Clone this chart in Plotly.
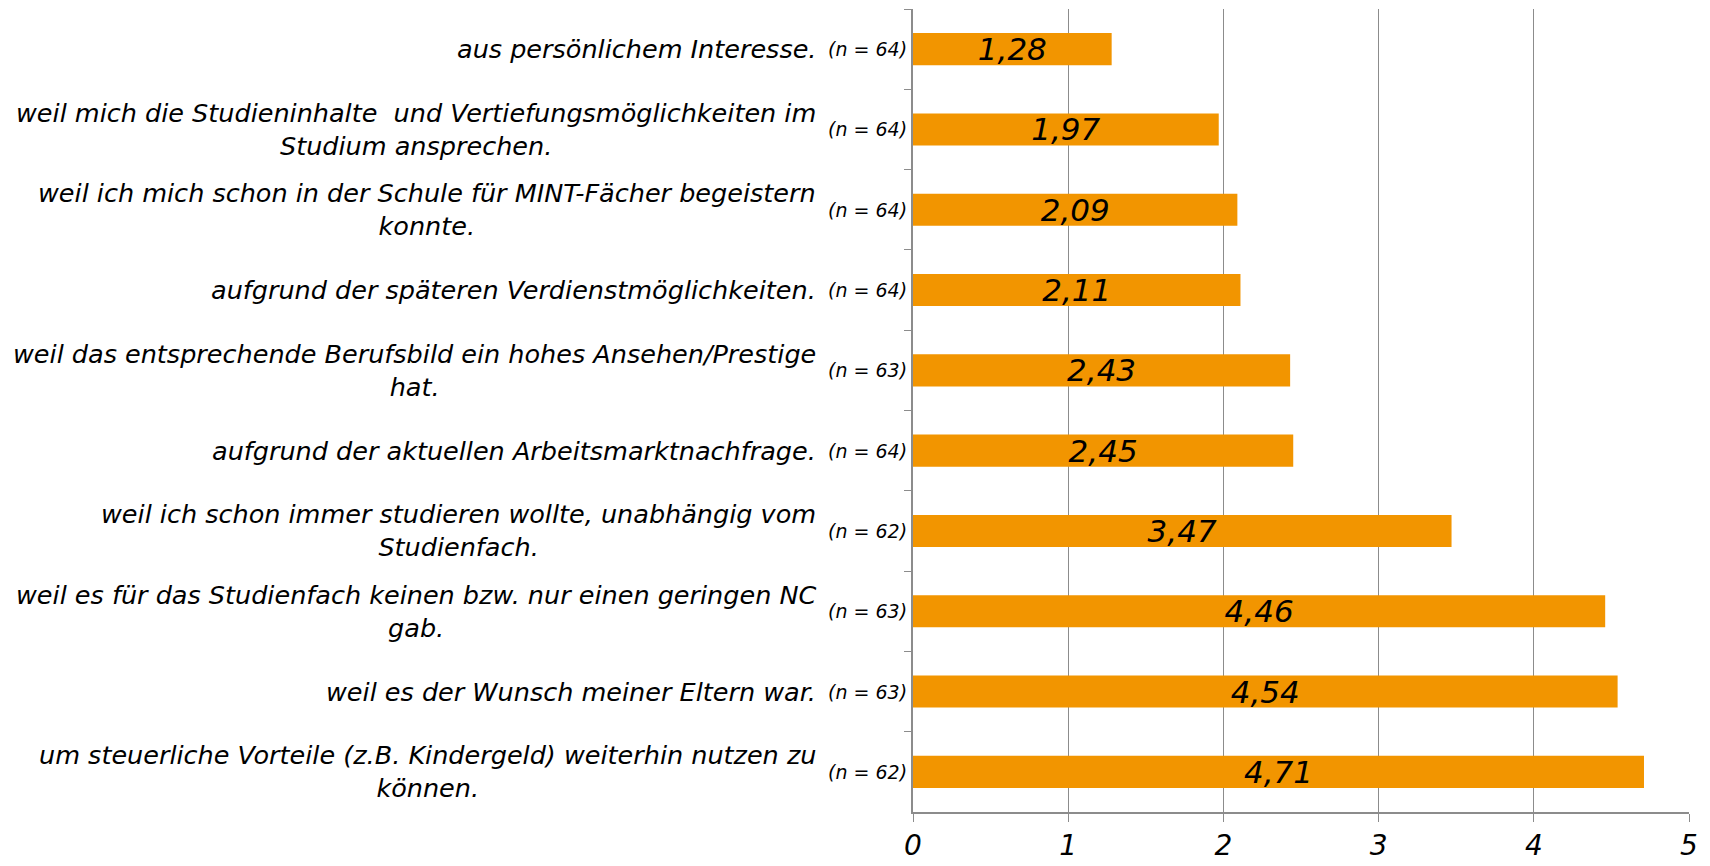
import plotly.graph_objects as go

categories = [
    "aus persönlichem Interesse.",
    "weil mich die Studieninhalte  und Vertiefungsmöglichkeiten im<br>Studium ansprechen.",
    "weil ich mich schon in der Schule für MINT-Fächer begeistern<br>konnte.",
    "aufgrund der späteren Verdienstmöglichkeiten.",
    "weil das entsprechende Berufsbild ein hohes Ansehen/Prestige<br>hat.",
    "aufgrund der aktuellen Arbeitsmarktnachfrage.",
    "weil ich schon immer studieren wollte, unabhängig vom<br>Studienfach.",
    "weil es für das Studienfach keinen bzw. nur einen geringen NC<br>gab.",
    "weil es der Wunsch meiner Eltern war.",
    "um steuerliche Vorteile (z.B. Kindergeld) weiterhin nutzen zu<br>können.",
]
n_counts = [64, 64, 64, 64, 63, 64, 62, 63, 63, 62]
means = [1.28, 1.97, 2.09, 2.11, 2.43, 2.45, 3.47, 4.46, 4.54, 4.71]
x_ticks = [0, 1, 2, 3, 4, 5]

FONT = "DejaVu Sans"
ORANGE = "#F29500"
GRID = "#8C8C8C"

ids = [f"c{i}" for i in range(len(categories))]

fig = go.Figure()
fig.add_trace(go.Bar(
    x=means, y=ids, orientation="h",
    marker=dict(color=ORANGE, line=dict(width=0)),
    texttemplate="<i>%{x:.2f}</i>", textposition="inside",
    insidetextanchor="middle", textangle=0, constraintext="none",
    textfont=dict(family=FONT, size=31, color="black"),
    hoverinfo="skip",
))

annotations = []
for cid, cat, n in zip(ids, categories, n_counts):
    annotations.append(dict(
        x=0, xref="paper", y=cid, yref="y", xanchor="right", yanchor="middle",
        xshift=-95, align="center", showarrow=False,
        text=f"<i>{cat}</i>", font=dict(family=FONT, size=25.5, color="black"),
    ))
    annotations.append(dict(
        x=0, xref="paper", y=cid, yref="y", xanchor="right", yanchor="middle",
        xshift=-4, align="right", showarrow=False,
        text=f"<i>(n = {n})</i>", font=dict(family=FONT, size=19, color="black"),
    ))

fig.update_layout(
    width=1702, height=858,
    margin=dict(l=905, r=21, t=1, b=54, autoexpand=False),
    paper_bgcolor="white", plot_bgcolor="white",
    separators=",.",
    bargap=0.6, showlegend=False,
    annotations=annotations,
    xaxis=dict(
        range=[0, 5], tickvals=x_ticks, ticktext=[f"<i>{v}</i>" for v in x_ticks],
        showgrid=True, gridcolor=GRID, gridwidth=1.3,
        showline=True, linecolor=GRID, linewidth=1.5,
        ticks="outside", ticklen=8, tickcolor=GRID, tickwidth=1.3,
        tickfont=dict(family=FONT, size=28, color="black"),
        ticklabelstandoff=0, zeroline=False, fixedrange=True, automargin=False,
    ),
    yaxis=dict(
        categoryorder="array", categoryarray=ids, autorange="reversed",
        showticklabels=False, showline=True, linecolor=GRID, linewidth=1.5,
        ticks="outside", tickson="boundaries", ticklen=7, tickcolor=GRID,
        tickwidth=1.3, showgrid=False, zeroline=False, fixedrange=True,
        automargin=False,
    ),
)

fig.write_html("out.html")
